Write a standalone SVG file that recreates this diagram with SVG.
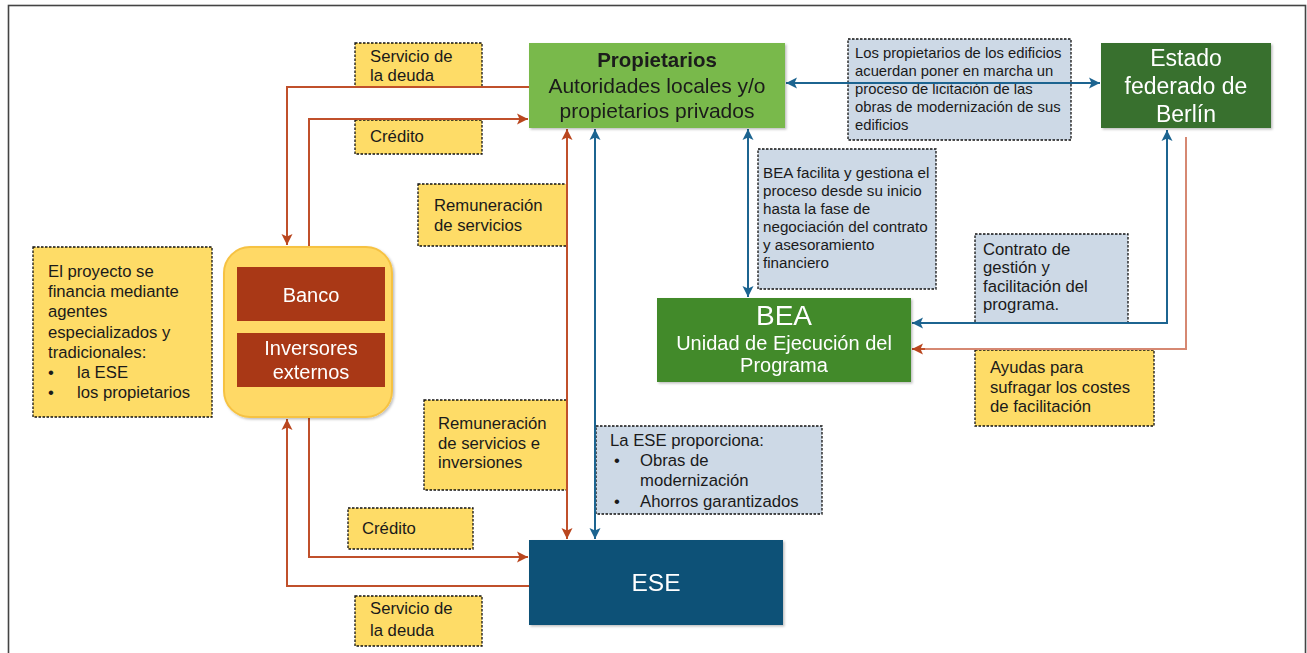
<svg xmlns="http://www.w3.org/2000/svg" width="1307" height="653" viewBox="0 0 1307 653">
<defs>
<style>
text{font-family:"Liberation Sans",Arial,sans-serif;fill:#1a1a1a}
.w{fill:#ffffff}
.lbl{font-size:16.7px}
.sm{font-size:14.8px}
.sm2{font-size:15.2px}
.y{fill:#fedc67;stroke:#111;stroke-width:1.3;stroke-dasharray:2.5 1.5}
.b{fill:#cdd9e6;stroke:#111;stroke-width:1.3;stroke-dasharray:2.5 1.5}
.r{fill:none;stroke:#c0502b;stroke-width:2}
.rl{fill:none;stroke:#d68872;stroke-width:2}
.bl{fill:none;stroke:#1c6490;stroke-width:2}
</style>
<marker id="ar" markerUnits="userSpaceOnUse" markerWidth="14" markerHeight="14" refX="11" refY="6" orient="auto-start-reverse" viewBox="0 0 14 12">
<path d="M0,0.5 L11,6 L0,11.5 L2.5,6 z" fill="#b9461e"/>
</marker>
<marker id="ab" markerUnits="userSpaceOnUse" markerWidth="14" markerHeight="14" refX="11" refY="6" orient="auto-start-reverse" viewBox="0 0 14 12">
<path d="M0,0.5 L11,6 L0,11.5 L2.5,6 z" fill="#1c6490"/>
</marker>
<filter id="sh" x="-5%" y="-5%" width="112%" height="115%">
<feDropShadow dx="1.5" dy="1.5" stdDeviation="1.2" flood-color="#000" flood-opacity="0.25"/>
</filter>
</defs>

<rect x="8.5" y="5.5" width="1297" height="700" fill="#ffffff" stroke="#444" stroke-width="1.6"/>

<!-- labels -->
<g id="lbl-servicio-top"><rect class="y" x="355" y="43" width="127" height="44"/>
<text class="lbl" x="370" y="62">Servicio de</text><text class="lbl" x="370" y="81">la deuda</text></g>
<g id="lbl-credito-top"><rect class="y" x="355" y="120" width="127" height="34"/>
<text class="lbl" x="370" y="142">Crédito</text></g>
<g id="lbl-remuneracion"><rect class="y" x="418" y="184" width="149" height="62"/>
<text class="lbl" x="434" y="211">Remuneración</text><text class="lbl" x="434" y="231">de servicios</text></g>
<g id="lbl-remuneracion-inv"><rect class="y" x="424" y="400" width="143" height="90"/>
<text class="lbl" x="438" y="429">Remuneración</text><text class="lbl" x="438" y="449">de servicios e</text><text class="lbl" x="438" y="468">inversiones</text></g>
<g id="lbl-credito-bottom"><rect class="y" x="348" y="508" width="125" height="41"/>
<text class="lbl" x="362" y="534">Crédito</text></g>
<g id="lbl-servicio-bottom"><rect class="y" x="355" y="596" width="127" height="50"/>
<text class="lbl" x="370" y="614">Servicio de</text><text class="lbl" x="370" y="636">la deuda</text></g>
<g id="lbl-financia"><rect class="y" x="33" y="247" width="179" height="170"/>
<text class="lbl" x="48" y="277">El proyecto se</text>
<text class="lbl" x="48" y="297">financia mediante</text>
<text class="lbl" x="48" y="317">agentes</text>
<text class="lbl" x="48" y="338">especializados y</text>
<text class="lbl" x="48" y="358">tradicionales:</text>
<text class="lbl" x="48" y="378">•</text><text class="lbl" x="77" y="378">la ESE</text>
<text class="lbl" x="48" y="398">•</text><text class="lbl" x="77" y="398">los propietarios</text></g>
<g id="lbl-licitacion"><rect class="b" x="848" y="39" width="223" height="101"/>
<text class="sm" x="855" y="58">Los propietarios de los edificios</text>
<text class="sm" x="855" y="76">acuerdan poner en marcha un</text>
<text class="sm" x="855" y="94">proceso de licitación de las</text>
<text class="sm" x="855" y="112">obras de modernización de sus</text>
<text class="sm" x="855" y="130">edificios</text></g>
<g id="lbl-bea-facilita"><rect class="b" x="758" y="149" width="178" height="140"/>
<text class="sm2" x="763" y="178">BEA facilita y gestiona el</text>
<text class="sm2" x="763" y="196">proceso desde su inicio</text>
<text class="sm2" x="763" y="214">hasta la fase de</text>
<text class="sm2" x="763" y="232">negociación del contrato</text>
<text class="sm2" x="763" y="250">y asesoramiento</text>
<text class="sm2" x="763" y="268">financiero</text></g>
<g id="lbl-contrato"><rect class="b" x="975" y="234" width="153" height="89"/>
<text class="lbl" x="983" y="255">Contrato de</text>
<text class="lbl" x="983" y="273">gestión y</text>
<text class="lbl" x="983" y="292">facilitación del</text>
<text class="lbl" x="983" y="310">programa.</text></g>
<g id="lbl-ayudas"><rect class="y" x="975" y="350" width="179" height="76"/>
<text class="lbl" x="990" y="373">Ayudas para</text>
<text class="lbl" x="990" y="393">sufragar los costes</text>
<text class="lbl" x="990" y="412">de facilitación</text></g>
<g id="lbl-ese-proporciona"><rect class="b" x="596" y="426" width="226" height="88"/>
<text class="lbl" x="610" y="446">La ESE proporciona:</text>
<text class="lbl" x="614" y="466">•</text><text class="lbl" x="640" y="466">Obras de</text>
<text class="lbl" x="640" y="486">modernización</text>
<text class="lbl" x="614" y="507">•</text><text class="lbl" x="640" y="507">Ahorros garantizados</text></g>

<!-- connectors -->
<g id="connectors">
<path class="r" d="M529,87 H287 V245" marker-end="url(#ar)"/>
<path class="r" d="M309,247 V119 H528" marker-end="url(#ar)"/>
<path class="r" d="M567,129 V539" marker-start="url(#ar)" marker-end="url(#ar)"/>
<path class="bl" d="M595,129 V539" marker-start="url(#ab)" marker-end="url(#ab)"/>
<path class="bl" d="M748,129 V297" marker-start="url(#ab)" marker-end="url(#ab)"/>
<path class="bl" d="M786,83 H1100" marker-start="url(#ab)" marker-end="url(#ab)"/>
<path class="bl" d="M1167,130 V323 H912" marker-start="url(#ab)" marker-end="url(#ab)"/>
<path class="rl" d="M1186,137 V349 H920"/>
<path class="r" d="M925,349 H912" marker-end="url(#ar)"/>
<path class="r" d="M309,418 V557 H528" marker-end="url(#ar)"/>
<path class="r" d="M529,586 H287 V419" marker-end="url(#ar)"/>
</g>

<!-- nodes -->
<g id="propietarios" filter="url(#sh)">
<rect x="529" y="43" width="256" height="85" fill="#79b94b"/>
<text x="657" y="67" text-anchor="middle" font-size="20.5" font-weight="bold">Propietarios</text>
<text x="657" y="93" text-anchor="middle" font-size="21">Autoridades locales y/o</text>
<text x="657" y="118" text-anchor="middle" font-size="21">propietarios privados</text>
</g>
<g id="estado" filter="url(#sh)">
<rect x="1101" y="43" width="170" height="85" fill="#37702e"/>
<text class="w" x="1186" y="66" text-anchor="middle" font-size="23">Estado</text>
<text class="w" x="1186" y="94" text-anchor="middle" font-size="23">federado de</text>
<text class="w" x="1186" y="122" text-anchor="middle" font-size="23">Berlín</text>
</g>
<g id="bea" filter="url(#sh)">
<rect x="657" y="298" width="254" height="84" fill="#428a2b"/>
<text class="w" x="784" y="325" text-anchor="middle" font-size="28">BEA</text>
<text class="w" x="784" y="350" text-anchor="middle" font-size="20">Unidad de Ejecución del</text>
<text class="w" x="784" y="372" text-anchor="middle" font-size="20">Programa</text>
</g>
<g id="ese" filter="url(#sh)">
<rect x="529" y="540" width="254" height="85" fill="#0e5177"/>
<text class="w" x="656" y="591" text-anchor="middle" font-size="24.5">ESE</text>
</g>
<g id="financiadores" filter="url(#sh)">
<rect x="224" y="247" width="168" height="170" rx="26" fill="#ffd966" stroke="#f6c243" stroke-width="2"/>
<g id="banco">
<rect x="237" y="267" width="148" height="54" fill="#a93814"/>
<text class="w" x="311" y="302" text-anchor="middle" font-size="20">Banco</text>
</g>
<g id="inversores">
<rect x="237" y="333" width="148" height="54" fill="#a93814"/>
<text class="w" x="311" y="355" text-anchor="middle" font-size="20">Inversores</text>
<text class="w" x="311" y="379" text-anchor="middle" font-size="20">externos</text>
</g>
</g>
</svg>
